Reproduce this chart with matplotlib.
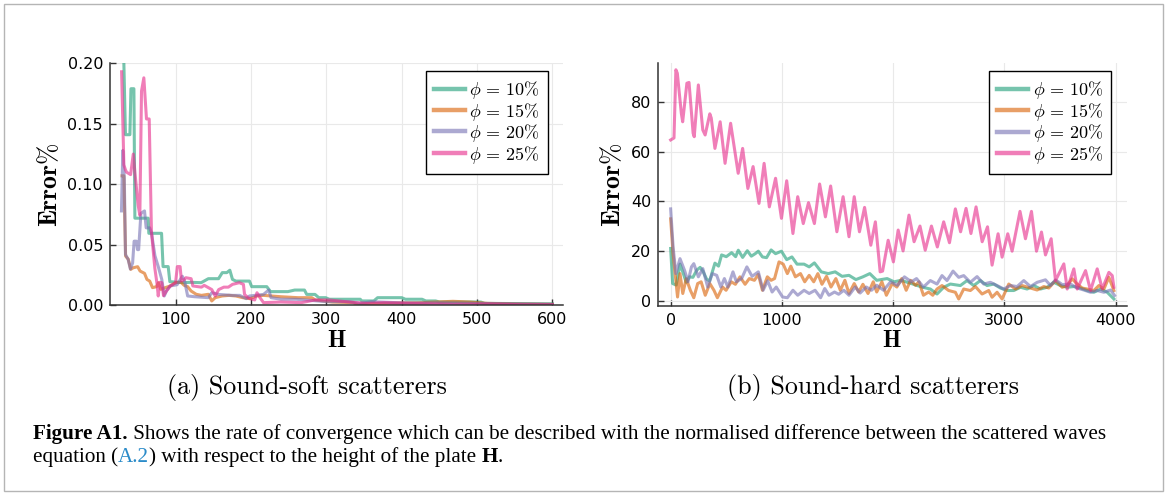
import numpy as np
import matplotlib
matplotlib.use('Agg')
import matplotlib.pyplot as plt
from matplotlib.patches import Rectangle

plt.rcParams['mathtext.fontset'] = 'cm'
plt.rcParams['font.family'] = 'DejaVu Sans'

labels = [r'$\phi\,=\,10\%$', r'$\phi\,=\,15\%$', r'$\phi\,=\,20\%$', r'$\phi\,=\,25\%$']
colors = ['#1b9e77', '#d95f02', '#7570b3', '#e7298a']

#%% (a) sound-soft, error vs H
soft_h10 = [31, 31.4, 33.5, 39.4, 40.8, 44.7, 46.0, 63.7, 64.5, 81.4, 83.4, 90.2, 92.4, 111, 120, 134, 143.5, 157, 162, 168,
            172, 175.5, 180, 198, 201, 221, 226, 249, 258, 271, 274, 285, 290, 299, 304, 345, 347, 363, 368, 400,
            405, 427, 432, 445, 450, 505, 510, 600]
soft_e10 = [0.21, 0.20, 0.141, 0.141, 0.179, 0.179, 0.072, 0.072, 0.0595, 0.0595, 0.032, 0.032, 0.0195, 0.0187, 0.019,
            0.0187, 0.022, 0.022, 0.027, 0.027, 0.029, 0.0214, 0.020, 0.020, 0.0154, 0.0154, 0.0113, 0.0113, 0.0126,
            0.0126, 0.009, 0.009, 0.0063, 0.0063, 0.005, 0.005, 0.0036, 0.0036, 0.0063, 0.0063, 0.005, 0.005, 0.0036,
            0.0036, 0.0027, 0.0027, 0.0016, 0.0012]

soft_h15 = [29, 31.4, 33.7, 37.3, 40.5, 43.7, 49.7, 52.9, 58.8, 62, 65.7, 69.4, 74.8, 77.1, 80.3, 86.3, 93.1, 100, 106.9,
            111.4, 116, 120.6, 127.4, 134.3, 143.5, 148, 152.6, 161.8, 170.9, 180, 189.2, 198.4, 207.5, 216.7, 239.5,
            262.4, 280.7, 285.3, 308, 335.6, 342, 350, 376.8, 422.5, 445, 468, 491, 514, 560, 600]
soft_e15 = [0.107, 0.107, 0.0407, 0.038, 0.0297, 0.031, 0.0319, 0.0283, 0.0264, 0.0214, 0.020, 0.0146, 0.0154, 0.0187,
            0.0132, 0.0146, 0.016, 0.0187, 0.0192, 0.0165, 0.0154, 0.0118, 0.0091, 0.0082, 0.0091, 0.0036, 0.0063,
            0.0077, 0.0082, 0.0077, 0.0063, 0.0055, 0.0077, 0.0082, 0.0071, 0.0063, 0.0063, 0.0044, 0.0027, 0.0022,
            0.0002, 0.0012, 0.0016, 0.0022, 0.0027, 0.0033, 0.0027, 0.0016, 0.0011, 0.0008]

soft_h20 = [28.2, 30, 32, 33.5, 37, 40, 43, 45, 48, 49.5, 51, 54, 58.8, 61, 65.7, 68, 72.6, 77, 81.7, 85, 88, 93, 102,
            109, 112, 116, 125, 143.5, 148, 157, 175.5, 185, 193.8, 198, 216.7, 223.5, 226.7, 240, 260, 280, 300,
            330, 345, 360, 400, 450, 500, 550, 600]
soft_e20 = [0.078, 0.128, 0.105, 0.042, 0.038, 0.030, 0.035, 0.053, 0.053, 0.046, 0.046, 0.076, 0.078, 0.064, 0.064,
            0.06, 0.041, 0.032, 0.0214, 0.0077, 0.012, 0.016, 0.017, 0.024, 0.02, 0.0077, 0.0071, 0.0063, 0.0104,
            0.009, 0.0082, 0.0082, 0.0055, 0.0077, 0.009, 0.0126, 0.0063, 0.005, 0.005, 0.004, 0.003, 0.003, 0.0015,
            0.003, 0.002, 0.002, 0.0015, 0.0012, 0.0008]

soft_h25 = [28.4, 31.4, 33.5, 35, 40.3, 43.9, 46, 50.4, 52.6, 54.8, 57.9, 61.4, 65, 68, 72.5, 75.6, 77, 79, 81.7, 84, 88,
            93, 100, 102.3, 106, 107.8, 111, 113.7, 120.6, 122.9, 134.3, 138, 143.5, 148, 152.6, 157.2, 164, 170,
            175.5, 184.6, 190, 191.5, 196, 199, 205, 208, 212, 216.7, 239.5, 267, 285, 303.6, 331, 354, 376.8,
            422.5, 468, 514, 560, 600]
soft_e25 = [0.193, 0.116, 0.112, 0.11, 0.108, 0.125, 0.11, 0.0825, 0.0745, 0.177, 0.188, 0.154, 0.154, 0.0608, 0.0306,
            0.0168, 0.0077, 0.019, 0.0187, 0.008, 0.012, 0.016, 0.0187, 0.032, 0.032, 0.020, 0.021, 0.0228, 0.022,
            0.016, 0.015, 0.0165, 0.0146, 0.013, 0.0077, 0.013, 0.015, 0.015, 0.0173, 0.0187, 0.0173, 0.009, 0.0063,
            0.0055, 0.0044, 0.0104, 0.0063, 0.0022, 0.0027, 0.0022, 0.0044, 0.0044, 0.0027, 0.0016, 0.0022, 0.0014,
            0.0008, 0.0011, 0.0005, 0.0005]

#%% (b) sound-hard, error vs H
hard_h10 = [0, 18, 50, 84, 110, 140, 170, 200, 235, 265, 290, 323, 350, 398, 430, 458, 500, 548, 584, 608, 647, 689,
            725, 760, 788, 825, 862, 903, 943, 996, 1043, 1090, 1136, 1199, 1245, 1292, 1354, 1416, 1479, 1541, 1603,
            1665, 1728, 1790, 1852, 1946, 2008, 2070, 2164, 2257, 2334, 2394, 2454, 2514, 2604, 2664, 2724, 2784,
            2844, 2904, 2964, 3024, 3084, 3144, 3204, 3264, 3324, 3384, 3444, 3504, 3564, 3624, 3684, 3744, 3804,
            3864, 3924, 3984]
hard_e10 = [21.1, 7, 6.4, 14.8, 11.5, 7.5, 9.7, 9.5, 12.4, 13.5, 12, 8.8, 8, 15.2, 14, 18.5, 17.8, 19.4, 17.8, 20.4,
            17.5, 20.2, 18, 19, 20, 17.7, 17.4, 20.5, 19, 20, 16.6, 17.7, 14.8, 14.8, 13.7, 15.3, 11.7, 11, 11.7, 9.9,
            10.3, 8.6, 9.7, 11, 8.3, 9, 7.7, 8.3, 7, 5.6, 4.8, 2.8, 5.5, 6.8, 6.2, 8.2, 6.2, 8.2, 6.2, 6.8, 5.2, 4.2,
            4.2, 5.5, 4.8, 6.2, 4.8, 5.5, 7.5, 6.2, 5.5, 5.8, 5.2, 4.2, 3.5, 4.8, 3.5, 0.8]

hard_h15 = [0, 22, 40, 62, 84, 109, 140, 177, 208, 243, 274, 311, 352, 389, 420, 467, 498, 545, 582, 623, 669, 707, 753,
            788, 825, 869, 903, 934, 974, 1012, 1049, 1080, 1121, 1167, 1205, 1245, 1286, 1323, 1360, 1401, 1441,
            1485, 1525, 1566, 1603, 1650, 1690, 1728, 1774, 1821, 1852, 1899, 1939, 1992, 2033, 2077, 2117, 2157,
            2201, 2232, 2272, 2319, 2356, 2394, 2439, 2499, 2559, 2589, 2634, 2694, 2739, 2799, 2859, 2889, 2934,
            2979, 3039, 3099, 3159, 3234, 3294, 3354, 3399, 3459, 3519, 3564, 3609, 3654, 3699, 3744, 3804, 3849,
            3894, 3939, 3984]
hard_e15 = [33, 19, 11, 1.6, 11, 3, 9, 4.3, 1.3, 7, 7.7, 2.3, 7, 4.3, 1.3, 5.6, 4.3, 7.7, 6.7, 9.7, 6.7, 9, 8.3, 10.7,
            4.3, 9.7, 8.3, 9, 15.7, 14.8, 11, 14, 9.7, 11, 7.7, 10.3, 7.7, 11, 6.7, 9.9, 5.6, 9, 4.3, 8.3, 3, 7, 3.6,
            6.7, 3, 7.7, 3.6, 7.7, 2.3, 7, 5.6, 9, 4.3, 8.3, 6.3, 7.7, 2.3, 3.6, 2.3, 4.8, 6.2, 4.2, 3.5, 0.8, 4.8, 4.2,
            5.8, 2.8, 4.2, 1.5, 3.5, 0.8, 6.8, 4.8, 6.2, 5.2, 4.4, 5.8, 5.2, 8.2, 5.5, 6.2, 8.9, 6.8, 5.2, 4.8, 4.2,
            6.2, 4.8, 9.5, 4.2]

hard_h20 = [0, 22, 47, 84, 125, 156, 187, 208, 249, 289, 333, 374, 414, 451, 483, 514, 560, 591, 638, 685, 732, 788,
            831, 872, 912, 949, 1006, 1049, 1099, 1142, 1199, 1245, 1298, 1348, 1385, 1423, 1473, 1510, 1557, 1603,
            1659, 1703, 1759, 1806, 1852, 1914, 1977, 2039, 2101, 2164, 2210, 2272, 2334, 2394, 2439, 2484, 2538,
            2589, 2634, 2694, 2754, 2814, 2874, 2934, 2994, 3054, 3114, 3174, 3234, 3294, 3369, 3414, 3459, 3519,
            3594, 3654, 3714, 3774, 3834, 3894, 3954, 3990]
hard_e20 = [37, 21.7, 11, 17, 12.3, 7.7, 13.7, 15, 9.7, 13, 5.6, 11, 10.3, 5.6, 9, 5.6, 11.7, 7.7, 9, 13.7, 9.9, 11.7,
            4.3, 8.1, 3.6, 5.6, 1.6, 1.3, 4.3, 2.3, 4.3, 3, 4.3, 1.3, 5, 2.3, 3.6, 2.7, 4.3, 2.3, 5.6, 3.2, 5.6, 4.3,
            6.3, 4.3, 7.7, 6.3, 9.7, 7.7, 9, 5.6, 8.2, 6.8, 10.2, 8.2, 12, 9.5, 10.2, 7.5, 9.8, 6.8, 7.5, 6.2, 4.8,
            6.2, 5.8, 8.2, 5.8, 7.5, 8.5, 6.2, 8.5, 6.6, 6.8, 5.2, 4.4, 3.5, 4.2, 3.5, 4.4, 2.2]

hard_h25 = [0, 30, 47, 60, 96, 108, 146, 165, 202, 212, 249, 289, 310, 352, 365, 398, 445, 489, 539, 607, 647, 694,
            741, 794, 840, 887, 943, 996, 1043, 1099, 1142, 1192, 1239, 1292, 1339, 1391, 1438, 1494, 1550, 1603,
            1650, 1697, 1743, 1799, 1840, 1883, 1905, 1955, 2002, 2045, 2089, 2142, 2188, 2241, 2288, 2344, 2397,
            2454, 2506, 2559, 2606, 2655, 2699, 2745, 2800, 2848, 2889, 2943, 2979, 3030, 3069, 3140, 3189, 3243,
            3288, 3333, 3369, 3420, 3459, 3534, 3564, 3624, 3654, 3729, 3774, 3834, 3879, 3939, 3969, 3984]
hard_e25 = [64.7, 65.5, 92.9, 91.5, 75.4, 72, 87.5, 87.8, 67.4, 66, 86.8, 68.7, 66.7, 75.2, 73.5, 61.3, 72, 55.3, 71.4,
            51.3, 61.3, 45.2, 54, 39.2, 55.3, 37.8, 49.3, 33.2, 48.3, 27.1, 41.9, 31.1, 39.5, 31.1, 47, 33.8, 46.2,
            27.8, 41.9, 25.8, 41.9, 27.8, 37.6, 22.4, 31.8, 11.7, 12, 24.4, 15.7, 28.5, 20.1, 34.5, 23.8, 30.1, 20.4,
            30.1, 21.7, 31.8, 23.4, 37, 27.8, 37.2, 27.1, 37.8, 23.8, 29.8, 14.4, 27, 17.6, 27, 20, 36, 25, 36, 20,
            27.7, 18.5, 25, 8.2, 14.9, 4.8, 12.9, 4.8, 12.2, 4.2, 12.9, 4.8, 11.5, 10.2, 5.5]

soft = [(soft_h10, soft_e10), (soft_h15, soft_e15), (soft_h20, soft_e20), (soft_h25, soft_e25)]
hard = [(hard_h10, hard_e10), (hard_h15, hard_e15), (hard_h20, hard_e20), (hard_h25, hard_e25)]

W, H = 1167, 493
fig = plt.figure(figsize=(W / 100, H / 100), dpi=100)


def px_box(l, t, r, b):
    return [l / W, 1 - b / H, (r - l) / W, (b - t) / H]


axL = fig.add_axes(px_box(110, 63.3, 563, 305.3))
axR = fig.add_axes(px_box(658.3, 63.3, 1126.7, 305.7))

for ax, data in [(axL, soft), (axR, hard)]:
    for (h, e), c, lab in zip(data, colors, labels):
        ax.plot(h, e, color=c, lw=2.2, alpha=0.6, label=lab, solid_joinstyle='round')
    for s in ['top', 'right']:
        ax.spines[s].set_visible(False)
    for s in ['left', 'bottom']:
        ax.spines[s].set_color('#333333')
        ax.spines[s].set_linewidth(1.1)
    ax.grid(True, color='#e9e9e9', lw=0.8)
    ax.set_axisbelow(True)
    ax.tick_params(direction='in', length=4, width=1, color='#333333', labelsize=11.5, pad=5)
    leg = ax.legend(loc='upper right', bbox_to_anchor=(0.967, 0.968), borderaxespad=0, fancybox=False,
                    edgecolor='black', framealpha=1, fontsize=13, handlelength=1.7, handletextpad=0.25,
                    handleheight=0.8, labelspacing=-0.03, borderpad=0.45)
    leg.get_frame().set_linewidth(1.0)
    for ln in leg.get_lines():
        ln.set_linewidth(3.2)

axL.set_xlim(13, 614)
axL.set_ylim(0, 0.2)
axL.set_xticks([100, 200, 300, 400, 500, 600])
axL.set_yticks([0, 0.05, 0.10, 0.15, 0.20])
axL.set_yticklabels(['0.00', '0.05', '0.10', '0.15', '0.20'])

axR.set_xlim(-111, 4099)
axR.set_ylim(-1.9, 95.5)
axR.set_xticks([0, 1000, 2000, 3000, 4000])
axR.set_yticks([0, 20, 40, 60, 80])

# axis labels
for x in [50, 613]:
    fig.text(x / W, 1 - 185 / H, r'$\mathbf{Error}\%$', rotation=90, ha='center', va='center', fontsize=18.5)
for x in [336.5, 892]:
    fig.text(x / W, 1 - 340 / H, r'$\mathbf{H}$', ha='center', va='center', fontsize=17)

# sub captions
fig.text(306.5 / W, 1 - 394 / H, '(a) Sound-soft scatterers', family='cmr10', fontsize=18.7, ha='center',
         va='baseline')
fig.text(873 / W, 1 - 394 / H, '(b) Sound-hard scatterers', family='cmr10', fontsize=18.7, ha='center',
         va='baseline')

# caption
renderer = fig.canvas.get_renderer()


def put_runs(x, y, runs, size=15.2):
    for txt, kw in runs:
        t = fig.text(x / W, 1 - y / H, txt, family='Liberation Serif', fontsize=size, va='baseline', **kw)
        x += t.get_window_extent(renderer).width


put_runs(33, 439, [('Figure A1.', dict(weight='bold')),
                   (' Shows the rate of convergence which can be described with the normalised difference '
                    'between the scattered waves', {})])
put_runs(33, 462, [('equation (', {}), ('A.2', dict(color='#2a8bc9')),
                   (') with respect to the height of the plate ', {}), ('H', dict(weight='bold')), ('.', {})])

fig.patches.append(Rectangle((4 / W, 1 - 491 / H), 1159 / W, 487 / H, transform=fig.transFigure,
                             fill=False, edgecolor='#b5b5b5', lw=1))

fig.savefig('out.png', dpi=100)
